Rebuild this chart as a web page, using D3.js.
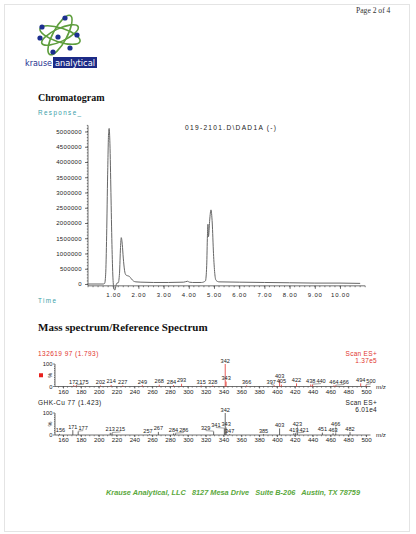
<!DOCTYPE html>
<html><head><meta charset="utf-8">
<script src="https://cdn.jsdelivr.net/npm/d3@7"></script>
<style>body{margin:0;background:#fff}svg{display:block}</style>
</head><body><svg id="c" width="416" height="534"></svg>
<script>
// ---------- DATA ----------
const chromTime = [0.00,0.60,0.66,0.70,0.74,0.78,0.82,0.84,0.87,0.91,0.95,0.99,1.03,1.07,1.11,1.15,1.20,1.25,1.29,1.32,1.36,1.40,1.45,1.50,1.57,1.64,1.72,1.80,1.90,2.10,2.60,3.20,3.80,3.95,4.02,4.15,4.50,4.66,4.71,4.74,4.76,4.78,4.79,4.83,4.88,4.93,4.98,5.03,5.08,5.20,6.00,7.00,8.00,9.00,10.00,10.80];
const chromResp = [0,0,0.02,0.3,1.6,3.6,5.0,5.1,4.6,3.0,1.3,0.2,-0.15,-0.2,-0.05,0.03,0.04,0.35,1.2,1.52,1.3,0.85,0.45,0.3,0.27,0.25,0.17,0.1,0.07,0.06,0.05,0.05,0.06,0.09,0.06,0.05,0.05,0.1,0.6,1.6,1.96,1.55,1.6,2.1,2.43,2.0,1.0,0.35,0.12,0.07,0.06,0.05,0.04,0.03,0.03,0.02].map(v=>v*1e6);
const chromYTicks = [0,500000,1000000,1500000,2000000,2500000,3000000,3500000,4000000,4500000,5000000];
const chromXTicks = [1,2,3,4,5,6,7,8,9,10];
const chromTitle = "019-2101.D\\DAD1A (-)";

const specXTicks = [160,180,200,220,240,260,280,300,320,340,360,380,400,420,440,460,480,500];
const spec1Mz  = [172,175,202,214,227,249,268,284,293,315,328,342,343,366,397,403,405,422,438,440,464,466,494,500];
const spec1Pct = [6,6,5,7,5,6,8,6,12,5,5,100,22,5,5,30,8,14,9,9,5,5,14,8];
const spec2Mz  = [156,171,177,213,215,257,267,284,286,329,341,342,343,347,385,403,419,421,423,451,463,466,482];
const spec2Pct = [5,22,16,10,10,3,14,7,7,16,30,100,34,4,4,30,8,8,8,11,8,8,13];
const spec1Head = "132619 97 (1.793)", spec1Scan = "1.37e5";
const spec2Head = "GHK-Cu 77 (1.423)", spec2Scan = "6.01e4";

// ---------- DRAW ----------
const svg = d3.select("#c");
const SANS = "Liberation Sans, Arial, sans-serif";
const SERIF = "Liberation Serif, Times New Roman, serif";
svg.append("rect").attr("width",416).attr("height",534).attr("fill","#fff");
svg.append("rect").attr("x",4.5).attr("y",4.5).attr("width",405).attr("height",527)
   .attr("fill","none").attr("stroke","#e4e4e4");

// logo
const logo = svg.append("g");
const cx0=60, cy0=35;
[[22,7,-62],[21,7,18],[20,6.5,-25]].forEach(([rx,ry,a])=>{
  logo.append("ellipse").attr("cx",cx0).attr("cy",cy0).attr("rx",rx).attr("ry",ry)
    .attr("transform",`rotate(${a},${cx0},${cy0})`).attr("fill","none")
    .attr("stroke","#5e9e3e").attr("stroke-width",1.6);
});
[[65,18],[42,27],[77,35],[58,37],[40,38],[70,48],[53,52]].forEach(([x,y])=>{
  logo.append("circle").attr("cx",x).attr("cy",y).attr("r",2.6).attr("fill","#1c2f8f");
});
logo.append("text").attr("x",25).attr("y",66).text("krause").attr("font-family","DejaVu Sans, sans-serif")
  .attr("font-size",8.5).attr("fill","#1c2f8f").attr("textLength",27).attr("lengthAdjust","spacingAndGlyphs");
logo.append("rect").attr("x",53).attr("y",57).attr("width",44).attr("height",11).attr("fill","#1c2a86");
logo.append("text").attr("x",55).attr("y",66).text("analytical").attr("font-family","DejaVu Sans, sans-serif")
  .attr("font-size",8.5).attr("fill","#fff").attr("textLength",40).attr("lengthAdjust","spacingAndGlyphs");

svg.append("text").attr("x",356).attr("y",13).text("Page 2 of 4").attr("font-family",SERIF)
  .attr("font-size",7.6).attr("fill","#333");

// headings
svg.append("text").attr("x",38).attr("y",101).text("Chromatogram").attr("font-family",SERIF)
  .attr("font-weight","bold").attr("font-size",10).attr("fill","#111");
svg.append("text").attr("x",38).attr("y",115).text("Response_").attr("font-family",SANS)
  .attr("font-size",6.3).attr("letter-spacing",1.4).attr("fill","#3aa0a8");
svg.append("text").attr("x",38).attr("y",303).text("Time").attr("font-family",SANS)
  .attr("font-size",6.3).attr("letter-spacing",1.4).attr("fill","#3aa0a8");

// chromatogram
const cx = d3.scaleLinear().domain([0,11]).range([88,365.2]);
const cy = d3.scaleLinear().domain([0,5000000]).range([284,131.5]);
const cg = svg.append("g");
const yAx = d3.axisLeft(cy).tickValues(chromYTicks).tickSize(3).tickFormat(d3.format("d"));
const yG = cg.append("g").attr("transform","translate(88,0)").call(yAx);
yG.select(".domain").attr("d",`M0,${cy(5200000)}V${cy(-60000)}`);
const yMinor = d3.range(0,5200001,100000);
cg.append("g").selectAll("line").data(yMinor).join("line")
  .attr("x1",86.8).attr("x2",88).attr("y1",d=>cy(d)).attr("y2",d=>cy(d)).attr("stroke","#333").attr("stroke-width",0.6);
const xAx = d3.axisBottom(cx).tickValues(chromXTicks).tickSize(3).tickFormat(d3.format(".2f"));
const xG = cg.append("g").attr("transform",`translate(0,${cy(-60000)})`).call(xAx);
xG.select(".domain").attr("d",`M${cx(0)},0H${cx(11)}`);
cg.append("g").selectAll("line").data(d3.range(0,11.01,0.2)).join("line")
  .attr("x1",d=>cx(d)).attr("x2",d=>cx(d)).attr("y1",cy(-60000)).attr("y2",cy(-60000)+1.4)
  .attr("stroke","#333").attr("stroke-width",0.6);
[yG,xG].forEach(g=>{
  g.selectAll("text").attr("font-family",SANS).attr("font-size",6).attr("fill","#222");
  g.selectAll("line,path").attr("stroke","#333").attr("stroke-width",0.7);
});
yG.selectAll("text").attr("letter-spacing",0.35);
xG.selectAll("text").attr("letter-spacing",0.8).attr("dy","0.9em");
const line = d3.line().x((d,i)=>cx(chromTime[i])).y(d=>cy(d)).curve(d3.curveMonotoneX);
cg.append("path").attr("d",line(chromResp)).attr("fill","none").attr("stroke","#666").attr("stroke-width",1);
cg.append("text").attr("x",185).attr("y",129.5).text(chromTitle).attr("font-family",SANS)
  .attr("font-size",6.6).attr("letter-spacing",1.3).attr("fill","#222");

// Mass spectrum heading
svg.append("text").attr("x",38).attr("y",331).text("Mass spectrum/Reference Spectrum").attr("font-family",SERIF)
  .attr("font-weight","bold").attr("font-size",11).attr("fill","#111");

const sx = d3.scaleLinear().domain([151,505]).range([55,370.5]);
function spectrum(y0, y100, mz, pct, color, head, headColor, scan, marker){
  const g = svg.append("g");
  const sy = d3.scaleLinear().domain([0,100]).range([y0,y100]);
  // header
  g.append("text").attr("x",38).attr("y",y100-8).text(head).attr("font-family",SANS).attr("font-size",6.5).attr("letter-spacing",0.45).attr("fill",headColor);
  g.append("text").attr("x",377).attr("y",y100-8).attr("text-anchor","end").text("Scan ES+").attr("font-family",SANS).attr("font-size",6.5).attr("letter-spacing",0.3).attr("fill",headColor);
  g.append("text").attr("x",377).attr("y",y100-1).attr("text-anchor","end").text(scan).attr("font-family",SANS).attr("font-size",6.5).attr("letter-spacing",0.3).attr("fill",headColor);
  // y axis
  g.append("line").attr("x1",55).attr("x2",55).attr("y1",y100).attr("y2",y0).attr("stroke","#333").attr("stroke-width",0.7);
  g.selectAll(".yt").data(d3.range(0,101,10)).join("line").attr("x1",d=>d%100===0?53:54).attr("x2",55)
    .attr("y1",d=>sy(d)).attr("y2",d=>sy(d)).attr("stroke","#333").attr("stroke-width",0.6);
  g.append("text").attr("x",52.5).attr("y",sy(100)+2).attr("text-anchor","end").text("100").attr("font-family",SANS).attr("font-size",5.8).attr("fill","#222");
  g.append("text").attr("x",52.5).attr("y",sy(0)+2).attr("text-anchor","end").text("0").attr("font-family",SANS).attr("font-size",5.8).attr("fill","#222");
  g.append("text").attr("transform",`translate(51.5,${sy(50)}) rotate(-90)`).attr("text-anchor","middle").text("%")
    .attr("font-family",SANS).attr("font-size",5.5).attr("fill","#222");
  if(marker) g.append("rect").attr("x",39).attr("y",sy(50)-2).attr("width",4).attr("height",4).attr("fill","#e8201c");
  // x axis
  const ax = d3.axisBottom(sx).tickValues(specXTicks).tickSize(2).tickFormat(d3.format("d"));
  const xg = g.append("g").attr("transform",`translate(0,${y0})`).call(ax);
  xg.select(".domain").attr("d",`M55,0H370.5`);
  xg.selectAll("line,path").attr("stroke","#333").attr("stroke-width",0.7);
  xg.selectAll("text").attr("font-family",SANS).attr("font-size",6.2).attr("fill","#222").attr("y",2.5).attr("dy","0.75em");
  g.selectAll(".mt").data(d3.range(155,505,5)).join("line").attr("x1",d=>sx(d)).attr("x2",d=>sx(d))
    .attr("y1",y0).attr("y2",y0+1.3).attr("stroke","#333").attr("stroke-width",0.5);
  g.append("text").attr("x",376).attr("y",y0+2).text("m/z").attr("font-family",SANS).attr("font-size",6.2).attr("fill","#222");
  // sticks
  g.selectAll(".st").data(mz).join("line").attr("x1",d=>sx(d)).attr("x2",d=>sx(d))
    .attr("y1",y0).attr("y2",(d,i)=>sy(pct[i])).attr("stroke",color).attr("stroke-width",0.8);
  // labels with simple collision avoidance
  const fs = 5.6, w = 3*fs*0.556, h = fs*0.72;
  const order = d3.range(mz.length).sort((a,b)=>pct[b]-pct[a]||mz[a]-mz[b]);
  const boxes = [];
  const dxs = [0]; for(let k=0.5;k<=9;k+=0.5){dxs.push(k,-k);}
  order.forEach(i=>{
    const px = sx(mz[i]), top = sy(pct[i]);
    let best=null;
    outer: for(const dy of [0,-3,-6,-9,-12]){
      for(const dx of dxs){
        const b={x0:px+dx-w/2,x1:px+dx+w/2,y0:top-1.5-h+dy,y1:top-1.5+dy};
        if(b.x0<55.5 || b.x1>377) continue;
        if(boxes.every(o=>b.x1+0.6<=o.x0||b.x0>=o.x1+0.6||b.y1+0.4<=o.y0||b.y0>=o.y1+0.4)){best={b,dx,dy};break outer;}
      }
    }
    if(!best) best={b:{x0:px-w/2,x1:px+w/2,y0:top-1.5-h,y1:top-1.5},dx:0,dy:0};
    boxes.push(best.b);
    g.append("text").attr("x",(best.b.x0+best.b.x1)/2).attr("y",best.b.y1).attr("text-anchor","middle")
      .text(mz[i]).attr("font-family",SANS).attr("font-size",fs).attr("fill","#222");
    if(Math.abs(best.dx)>2.5||best.dy<0){
      g.append("line").attr("x1",px).attr("y1",top-0.3).attr("x2",(best.b.x0+best.b.x1)/2).attr("y2",best.b.y1+0.6)
        .attr("stroke","#444").attr("stroke-width",0.5);
    }
  });
}
spectrum(386.5,364,spec1Mz,spec1Pct,"#e2332e",spec1Head,"#e2332e",spec1Scan,true);
spectrum(435,413,spec2Mz,spec2Pct,"#444",spec2Head,"#222",spec2Scan,false);

// footer
svg.append("text").attr("x",233).attr("y",495).attr("text-anchor","middle").style("white-space","pre")
  .text("Krause Analytical, LLC   8127 Mesa Drive   Suite B-206   Austin, TX 78759")
  .attr("font-family",SANS).attr("font-style","italic").attr("font-weight","bold").attr("font-size",7.2)
  .attr("fill","#5aa83c").attr("textLength",254).attr("lengthAdjust","spacingAndGlyphs");
</script></body></html>
